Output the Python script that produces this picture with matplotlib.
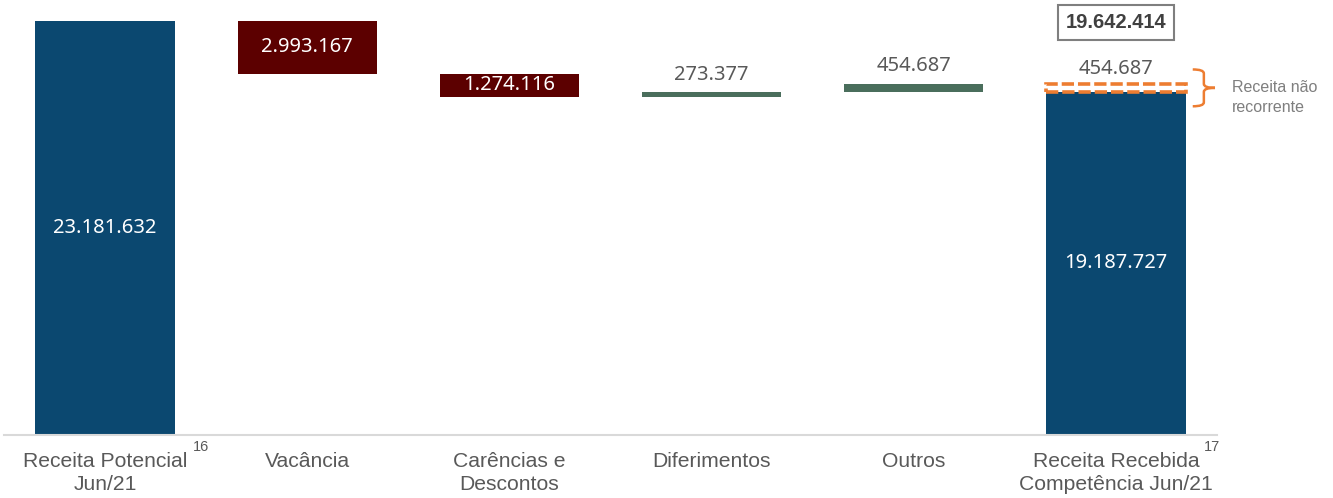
import matplotlib
matplotlib.use("Agg")
import matplotlib.pyplot as plt
from matplotlib.path import Path
from matplotlib.patches import PathPatch

# dados do gráfico (waterfall de receita)
categorias = ["Receita Potencial\nJun/21", "Vacância", "Carências e\nDescontos",
              "Diferimentos", "Outros", "Receita Recebida\nCompetência Jun/21"]
receita_potencial = 23181632
ajustes = [-2993167, -1274116, 273377, 454687]
receita_recorrente = 19187727
receita_nao_recorrente = 454687
receita_total = 19642414
notas = ["16", "17"]

AZUL = "#0B4870"
VERMELHO = "#5C0000"
VERDE = "#4A6E5C"
LARANJA = "#ED7D31"
CINZA = "#595959"


def fmt(v):
    return f"{abs(v):,}".replace(",", ".")


fig = plt.figure(figsize=(13.33, 4.98), dpi=100)
ax = fig.add_axes([4 / 1333, 63 / 498, 1213 / 1333, 435 / 498])
largura = 0.69
num_font = "Noto Sans"
lbl_size = 14.5

# barra inicial
ax.bar(0, receita_potencial, width=largura, color=AZUL)
ax.text(0, receita_potencial / 2, fmt(receita_potencial), ha="center", va="center",
        color="white", fontsize=lbl_size, family=num_font)

# ajustes
acumulado = receita_potencial
for i, v in enumerate(ajustes, start=1):
    base = acumulado + v if v < 0 else acumulado
    cor = VERMELHO if v < 0 else VERDE
    ax.bar(i, abs(v), bottom=base, width=largura, color=cor)
    if v < 0:
        ax.text(i, base + abs(v) / 2, fmt(v), ha="center", va="center",
                color="white", fontsize=lbl_size, family=num_font)
    else:
        ax.annotate(fmt(v), xy=(i, base + v), xytext=(0, 12.5), textcoords="offset points",
                    ha="center", va="center", color=CINZA, fontsize=lbl_size, family=num_font)
    acumulado += v

# barra final: recorrente + não recorrente
n = len(categorias) - 1
ax.bar(n, receita_recorrente, width=largura, color=AZUL)
ax.text(n, receita_recorrente / 2, fmt(receita_recorrente), ha="center", va="center",
        color="white", fontsize=lbl_size, family=num_font)
ax.bar(n, receita_nao_recorrente, bottom=receita_recorrente, width=largura, fill=False,
       edgecolor=LARANJA, linestyle=(0, (3.4, 1.1)), linewidth=2.6)
topo = receita_recorrente + receita_nao_recorrente
ax.annotate(fmt(receita_nao_recorrente), xy=(n, topo), xytext=(0, 10.5), textcoords="offset points",
            ha="center", va="center", color=CINZA, fontsize=lbl_size, family=num_font)
ax.annotate(fmt(receita_total), xy=(n, topo), xytext=(0, 44), textcoords="offset points",
            ha="center", va="center", color="#404040", fontsize=lbl_size, fontweight="bold",
            family="Liberation Sans",
            bbox=dict(boxstyle="square,pad=0.4", fc="white", ec="#7F7F7F", lw=1.5))

# chave "Receita não recorrente"
meio = receita_recorrente + receita_nao_recorrente / 2
xb = n + largura / 2 + 0.035
w, h, r = 0.055, 1.03e6, 0.22e6
verts = [(xb, meio + h), (xb + w, meio + h), (xb + w, meio + h - r),
         (xb + w, meio + r), (xb + w, meio), (xb + 2 * w, meio),
         (xb + w, meio), (xb + w, meio - r),
         (xb + w, meio - h + r), (xb + w, meio - h), (xb, meio - h)]
codes = [Path.MOVETO, Path.CURVE3, Path.CURVE3,
         Path.LINETO, Path.CURVE3, Path.CURVE3,
         Path.CURVE3, Path.CURVE3,
         Path.LINETO, Path.CURVE3, Path.CURVE3]
ax.add_patch(PathPatch(Path(verts, codes), fill=False, edgecolor=LARANJA, lw=1.8,
                       clip_on=False))
ax.annotate("Receita não\nrecorrente", xy=(xb + 2 * w, meio), xytext=(12, -7),
            textcoords="offset points", ha="left", va="center",
            color="#7F7F7F", fontsize=11.5, family="Liberation Sans", linespacing=1.45)

# eixos
ax.set_xlim(-0.5, n + 0.5)
ax.set_ylim(0, 24.33e6)
ax.set_xticks(range(len(categorias)))
ax.set_xticklabels(categorias, fontsize=15.2, color=CINZA, family="Liberation Sans",
                   linespacing=1.28)
ax.tick_params(axis="x", length=0, pad=12)
ax.set_yticks([])
for lado in ["top", "right", "left"]:
    ax.spines[lado].set_visible(False)
ax.spines["bottom"].set_color("#D9D9D9")
ax.spines["bottom"].set_linewidth(1.5)

# notas de rodapé sobrescritas
for idx, nota in zip([0, n], notas):
    ax.annotate(nota, xy=(idx, 0), xytext=(69, -8.5), textcoords="offset points",
                ha="center", va="center", color=CINZA, fontsize=10.5, family="Liberation Sans")

fig.savefig("out.png", dpi=100)
